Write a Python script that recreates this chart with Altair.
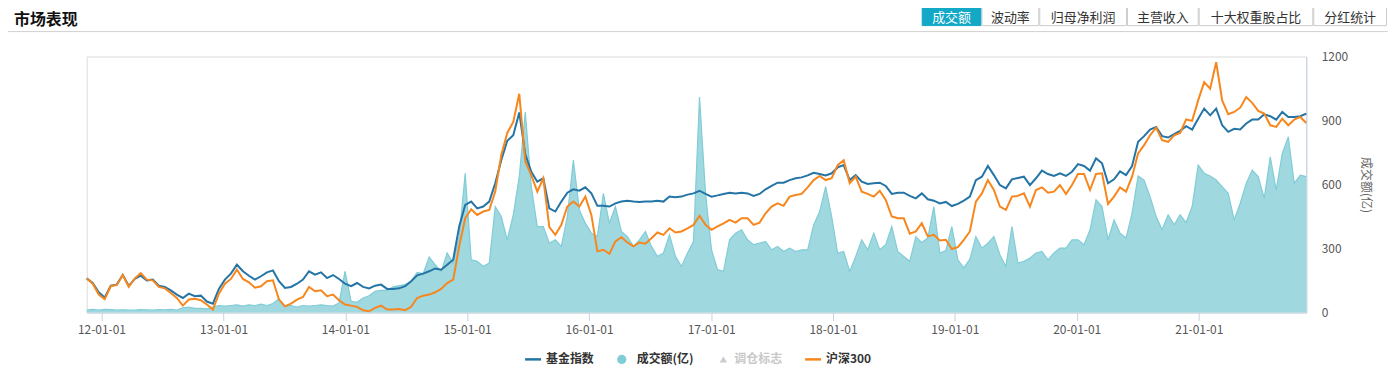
import altair as alt
import pandas as pd

FONT = "Noto Sans CJK SC"

# ---------------- data ----------------
start_date = "2011-11-18"
step_days = 18

fund_index = [
    0.2, -2.4, -7.6, -10.5, -3.9, -3.3, 2.1, -4.0, -0.1, 1.7,
    -0.9, -0.5, -3.9, -4.6, -6.5, -8.9, -10.8, -8.4, -9.8, -9.5,
    -12.8, -14.0, -5.7, -0.5, 2.9, 7.9, 4.2, 1.7, -0.5, 1.4,
    3.6, 4.7, -1.4, -5.2, -4.6, -2.8, -0.5, 4.2, 2.3, 3.6,
    0.4, 2.1, -0.1, -2.8, -4.2, -2.4, -4.6, -5.4, -3.9, -3.3,
    -5.7, -5.7, -5.4, -4.2, -1.4, 1.9, 2.9, 4.2, 5.8, 5.1,
    7.9, 10.7, 29.4, 41.5, 43.4, 39.6, 40.6, 43.4,
    53.7, 66.7, 77.6, 80.7, 93.5, 70.0, 60.2, 54.6, 56.5, 39.6,
    37.8, 43.4, 48.4, 50.3, 49.5, 51.4, 48.0, 41.0, 41.0, 40.6,
    42.4, 43.4, 43.9, 43.4, 43.2, 43.4, 43.4, 43.9, 43.4, 46.2,
    45.8, 46.2, 47.3, 48.0, 49.5, 47.7, 46.2, 46.9, 47.7, 48.4,
    48.0, 48.4, 48.0, 46.6, 47.7, 50.3, 52.2, 54.0, 54.0, 55.5,
    56.5, 57.0, 58.1, 59.6, 58.9, 58.1, 59.3, 62.6, 63.9, 55.5,
    58.3, 54.6, 53.3, 53.7, 54.0, 52.2, 47.7, 48.4,
    48.4, 46.6, 45.2, 48.0, 44.7, 43.9, 42.4, 43.2, 40.9, 42.1,
    43.9, 46.2, 55.5, 57.4, 63.4, 58.3, 52.7, 50.8, 55.9, 56.7,
    57.4, 52.7, 56.5, 60.8, 58.9, 57.8, 59.3, 57.8, 60.2, 64.5,
    63.4, 60.8, 67.7, 64.9, 53.7, 55.9, 60.4, 58.3, 63.4, 77.0,
    80.2, 83.9, 85.4, 80.2, 79.4, 81.3, 83.2, 85.8, 83.9, 90.0,
    95.7, 91.9, 95.7, 86.3, 82.6, 84.3, 83.9, 87.3, 89.5, 89.5,
    92.5, 91.4, 89.5, 93.8, 91.0, 91.0, 91.4, 92.9,
]

hs300 = [
    0.2, -2.8, -8.9, -11.5, -4.2, -3.5, 2.1, -4.5, 0.2, 3.2,
    -0.5, -0.9, -4.6, -5.4, -8.0, -10.8, -15.1, -11.7, -11.3, -12.1,
    -14.5, -17.3, -8.4, -2.8, -0.1, 5.1, -0.1, -2.0, -5.0, -4.2,
    -1.4, -0.9, -11.7, -15.5, -14.0, -11.7, -10.2, -4.6, -7.0, -6.5,
    -9.8, -8.9, -12.1, -14.5, -15.1, -15.8, -17.7, -18.3, -16.4, -15.1,
    -17.3, -17.3, -17.0, -17.7, -15.8, -10.8, -9.5, -8.9, -7.6, -5.7,
    -2.4, -0.5, 18.2, 34.0, 39.1, 35.9, 37.8, 38.7,
    49.0, 69.5, 82.0, 88.2, 104.0, 66.0, 58.3, 49.0, 56.5, 29.0,
    24.7, 30.3, 40.6, 43.4, 40.6, 46.2, 35.9, 15.4, 16.3, 14.0,
    21.0, 23.4, 20.4, 18.2, 20.4, 19.7, 22.8, 26.0, 24.7, 28.4,
    26.0, 26.6, 28.4, 30.3, 35.4, 30.3, 27.5, 29.4, 31.2, 33.1,
    31.6, 34.0, 34.0, 30.3, 31.6, 36.8, 40.6, 42.4, 41.0, 46.2,
    47.1, 47.7, 51.4, 55.5, 57.8, 55.5, 56.5, 63.9, 66.7, 53.7,
    57.4, 49.0, 47.7, 46.2, 49.5, 44.3, 35.0, 34.0,
    34.0, 25.3, 26.6, 31.2, 23.8, 24.7, 21.5, 21.9, 16.7, 17.8,
    21.9, 26.6, 43.4, 48.0, 55.5, 49.9, 40.6, 38.7, 46.2, 46.6,
    48.0, 40.6, 49.9, 51.4, 48.4, 49.0, 52.7, 47.7, 52.7, 58.9,
    58.9, 49.9, 58.9, 59.3, 42.1, 46.2, 51.4, 49.0, 57.4, 70.5,
    75.1, 80.7, 85.0, 77.9, 77.0, 80.7, 82.0, 89.6, 88.8, 100.3,
    110.6, 106.9, 121.8, 100.3, 92.5, 93.8, 96.2, 102.2, 98.9, 94.4,
    92.9, 86.3, 85.4, 90.0, 86.3, 89.5, 91.0, 87.6,
]

turnover = [
    12, 15, 12, 15, 14, 12, 13, 12, 11, 14,
    13, 12, 14, 13, 15, 12, 22, 26, 20, 20,
    17, 26, 33, 30, 33, 36, 30, 36, 33, 39,
    33, 42, 64, 30, 33, 26, 33, 30, 33, 36,
    33, 30, 45, 193, 53, 48, 68, 79, 100, 104,
    104, 120, 126, 131, 146, 188, 182, 260, 224, 193,
    279, 232, 356, 652, 247, 240, 216, 232,
    497, 450, 341, 458, 637, 940, 590, 403, 403, 325,
    341, 310, 450, 714, 481, 419, 372, 356, 559, 419,
    497, 380, 356, 310, 341, 380, 310, 263, 279, 364,
    263, 216, 279, 333, 1010, 559, 294, 201, 193, 341,
    372, 388, 341, 318, 325, 333, 294, 310, 286, 302,
    286, 294, 294, 411, 473, 590, 450, 279, 286, 193,
    263, 341, 294, 372, 294, 318, 403, 286,
    263, 240, 356, 328, 349, 497, 279, 291, 403, 247,
    209, 250, 356, 302, 325, 356, 271, 216, 403, 232,
    240, 255, 279, 286, 247, 279, 302, 302, 341, 341,
    318, 388, 528, 497, 341, 434, 372, 349, 466, 640,
    621, 543, 450, 388, 458, 411, 458, 422, 497, 691,
    653, 640, 621, 590, 559, 434, 512, 605, 668, 637,
    535, 730, 574, 746, 823, 605, 644, 637,
]

left_ticks = [-19, 17, 53, 89, 125]
right_ticks = [0, 300, 600, 900, 1200]
legend_labels = ["基金指数", "成交额(亿)", "调仓标志", "沪深300"]
button_labels = ["成交额", "波动率", "归母净利润", "主营收入", "十大权重股占比", "分红统计"]

dates = pd.date_range(start_date, periods=len(fund_index), freq=f"{step_days}D")
df = pd.DataFrame({"date": dates, "fund": fund_index, "hs300": hs300, "vol": turnover})

# ---------------- styles / layout ----------------
W, H = 1224, 257
BLUE = "#2474a6"
ORANGE = "#f7861c"
AREA = "#a0d8e0"
AREA_LINE = "#80ccd7"
AXIS_LINE = "#c5d3e2"
LABEL = "#555555"

x_enc = alt.X(
    "date:T",
    scale=alt.Scale(
        domain=[alt.DateTime(year=2011, month=11, date=18),
                alt.DateTime(year=2021, month=11, date=19)],
        nice=False,
    ),
    axis=alt.Axis(
        format="%y-%m-%d", tickCount={"interval": "year", "step": 1},
        title=None, grid=False, domainColor=AXIS_LINE, tickColor=AXIS_LINE,
        tickSize=8, labelPadding=4, labelFontSize=12, labelColor=LABEL,
        labelFont=FONT,
    ),
)

base = alt.Chart(df)

area = base.mark_area(
    color=AREA, opacity=1, line={"color": AREA_LINE, "strokeWidth": 1.2}
).encode(
    x=x_enc,
    y=alt.Y(
        "vol:Q",
        scale=alt.Scale(domain=[0, 1200], nice=False),
        axis=alt.Axis(
            orient="right", values=right_ticks, format="d", title="成交额(亿)", grid=False,
            ticks=False, domainColor=AXIS_LINE, labelPadding=15, titlePadding=11,
            labelFontSize=12, labelColor=LABEL, labelFont=FONT,
            titleFontSize=12, titleColor="#666", titleFont=FONT, titleFontWeight="normal",
        ),
    ),
)

left_scale = alt.Scale(domain=[-19, 125], nice=False)
blue = base.mark_line(color=BLUE, strokeWidth=2).encode(
    x=x_enc,
    y=alt.Y(
        "fund:Q", scale=left_scale,
        axis=alt.Axis(
            orient="left", values=left_ticks, format="d", title="累计涨跌幅(%)", grid=True,
            gridColor="#e3e3e3", ticks=False, domainColor=AXIS_LINE, labelPadding=15,
            titlePadding=10, labelFontSize=12, labelColor=LABEL, labelFont=FONT,
            titleFontSize=12, titleColor="#666", titleFont=FONT, titleFontWeight="normal",
        ),
    ),
)
orange = base.mark_line(color=ORANGE, strokeWidth=2).encode(
    x=x_enc, y=alt.Y("hs300:Q", scale=left_scale, axis=None)
)
lines = alt.layer(blue, orange)

one = alt.Data(values=[{}])


def txt(x, y, s, size=12, color="#333", weight="normal", align="left"):
    return alt.Chart(one).mark_text(
        text=s, fontSize=size, color=color, fontWeight=weight, align=align,
        baseline="middle", font=FONT,
    ).encode(x=alt.value(x), y=alt.value(y))


def hrule(x1, x2, y, color, width):
    return alt.Chart(one).mark_rule(color=color, strokeWidth=width).encode(
        x=alt.value(x1), x2=alt.value(x2), y=alt.value(y)
    )


deco = []
# header
deco.append(txt(-73, -37, "市场表现", size=16, color="#111", weight="bold"))
deco.append(hrule(-79, W + 82, -25, "#d2d2d2", 1))
edges = [838, 898, 956, 1044, 1116, 1231, 1305]
for k, lab in enumerate(button_labels):
    active = k == 0
    deco.append(
        alt.Chart(one).mark_rect(
            fill="#12a8c6" if active else "#ffffff",
            stroke="#12a8c6" if active else "#cccccc", strokeWidth=1,
        ).encode(x=alt.value(edges[k] + 0.5), x2=alt.value(edges[k + 1] - 0.5),
                 y=alt.value(-56), y2=alt.value(-31))
    )
for k, lab in enumerate(button_labels):
    active = k == 0
    deco.append(txt((edges[k] + edges[k + 1]) / 2, -39, lab, size=13,
                    color="#ffffff" if active else "#333", align="center"))

# legend
LY = 304
deco.append(hrule(440, 456, LY, BLUE, 2.5))
deco.append(txt(461, LY, legend_labels[0], weight="bold"))
deco.append(alt.Chart(one).mark_point(shape="circle", filled=True, size=85,
                                      color="#80ccd7", opacity=1)
            .encode(x=alt.value(537), y=alt.value(LY)))
deco.append(txt(552, LY, legend_labels[1], weight="bold"))
deco.append(alt.Chart(one).mark_point(shape="triangle-up", filled=True, size=55,
                                      color="#cccccc", opacity=1)
            .encode(x=alt.value(639), y=alt.value(LY)))
deco.append(txt(650, LY, legend_labels[2], color="#c8c8c8", weight="bold"))
deco.append(hrule(721, 737, LY, ORANGE, 2.5))
deco.append(txt(742, LY, legend_labels[3], weight="bold"))

chart = (
    alt.layer(area, lines, *deco)
    .resolve_scale(y="independent")
    .properties(
        width=W, height=H,
        autosize=alt.AutoSizeParams(type="none"),
        padding={"left": 79, "top": 48, "right": 82, "bottom": 54},
    )
    .configure_view(strokeWidth=0)
    .configure(font=FONT)
)

chart.save("out.html", embed_options={"renderer": "svg", "actions": False})
